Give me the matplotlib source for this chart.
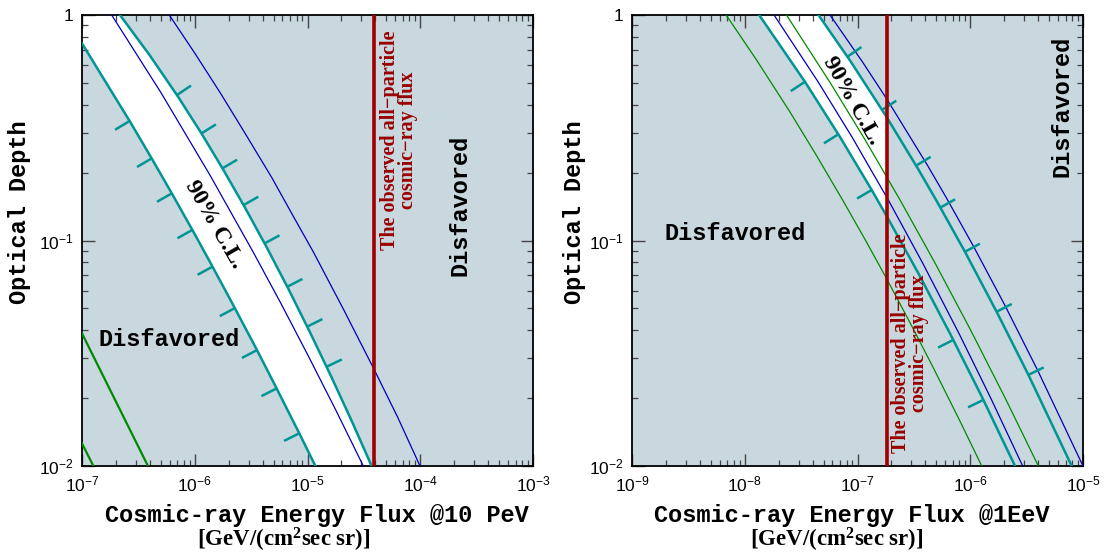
import numpy as np
import matplotlib.pyplot as plt
from matplotlib.patches import Polygon, Rectangle

plt.rcParams['font.family'] = 'Liberation Sans'
plt.rcParams['mathtext.default'] = 'regular'

# ---- left panel: flux @ 10 PeV  (log10 values) ----
pev_lo_x = [-7.0, -6.574, -6.382, -6.2, -6.0, -5.85, -5.687, -5.451, -5.288, -5.067, -4.93]
pev_lo_y = [-0.126, -0.473, -0.636, -0.794, -0.972, -1.109, -1.26, -1.483, -1.642, -1.861, -2.0]
pev_hi_x = [-6.663, -6.4, -6.146, -5.938, -5.747, -5.55, -5.362, -5.17, -4.98, -4.79, -4.61, -4.431]
pev_hi_y = [0.0, -0.178, -0.364, -0.527, -0.686, -0.858, -1.03, -1.214, -1.405, -1.603, -1.798, -2.0]
pev_blue_in_x = [-6.737, -6.3, -5.865, -5.481, -5.24, -5.0, -4.747, -4.505]
pev_blue_in_y = [0.0, -0.344, -0.71, -1.052, -1.275, -1.505, -1.754, -2.0]
pev_blue_out_x = [-6.226, -6.0, -5.77, -5.54, -5.318, -5.13, -4.949, -4.68, -4.416, -4.2, -4.002]
pev_blue_out_y = [0.0, -0.169, -0.348, -0.536, -0.72, -0.889, -1.05, -1.306, -1.565, -1.784, -2.0]
pev_green_a_x = [-7.0, -6.415]
pev_green_a_y = [-1.412, -2.0]
pev_green_b_x = [-7.0, -6.899]
pev_green_b_y = [-1.9, -2.0]
pev_cr_flux = 3.85e-5
pev_lo_ticks = [-0.47, -0.636, -0.791, -0.953, -1.116, -1.30, -1.486, -1.656, -1.855]
pev_hi_ticks = [-0.355, -0.525, -0.680, -0.843, -1.013, -1.205, -1.382, -1.560]

# ---- right panel: flux @ 1 EeV ----
eev_lo_x = [-7.872, -7.466, -7.155, -6.874, -6.741, -6.462, -6.18, -5.898, -5.603]
eev_lo_y = [0.0, -0.296, -0.541, -0.776, -0.892, -1.144, -1.412, -1.692, -2.0]
eev_hi_x = [-7.346, -7.066, -6.741, -6.461, -6.283, -6.047, -5.765, -5.485, -5.10]
eev_hi_y = [0.0, -0.202, -0.453, -0.684, -0.838, -1.05, -1.317, -1.595, -2.0]
eev_blue_in_x = [-7.74, -7.35, -7.05, -6.727, -6.42, -6.10, -5.82, -5.535]
eev_blue_in_y = [0.0, -0.296, -0.54, -0.82, -1.102, -1.412, -1.697, -2.0]
eev_green_in_x = [-7.63, -7.24, -6.94, -6.623, -6.31, -6.0, -5.69, -5.396]
eev_green_in_y = [0.0, -0.302, -0.547, -0.82, -1.102, -1.394, -1.699, -2.0]
eev_blue_out_x = [-7.244, -6.96, -6.741, -6.38, -6.209, -5.97, -5.69, -5.40, -5.0]
eev_blue_out_y = [0.0, -0.205, -0.372, -0.666, -0.813, -1.027, -1.29, -1.578, -2.0]
eev_green_out_x = [-8.165, -7.9, -7.599, -7.365, -7.129, -6.929, -6.741, -6.52, -6.32, -6.1, -5.898]
eev_green_out_y = [0.0, -0.196, -0.43, -0.622, -0.823, -0.999, -1.17, -1.378, -1.572, -1.792, -2.0]
eev_cr_flux = 1.82e-7
eev_lo_ticks = [-0.296, -0.529, -0.776, -1.441, -1.707]
eev_hi_ticks = [-0.185, -0.421, -0.668, -0.854, -1.05, -1.316, -1.596]

BG = '#c9d7df'
TEAL = '#009595'
BLUE = '#0000bb'
GREEN = '#008a00'
RED = '#a00000'
MONO = 'Liberation Mono'
SERIF = 'Liberation Serif'


def lg(v):
    return 10.0 ** np.asarray(v, dtype=float)


def hatch(ax, cx, cy, ticks, side, length=17):
    """Short perpendicular dashes along a curve (side=+1 up-right, -1 down-left)."""
    cx = np.asarray(cx); cy = np.asarray(cy)
    for yt in ticks:
        xa = np.interp(yt + 0.02, cy[::-1], cx[::-1])
        xb = np.interp(yt - 0.02, cy[::-1], cx[::-1])
        xm = np.interp(yt, cy[::-1], cx[::-1])
        pa = ax.transData.transform((10 ** xa, 10 ** (yt + 0.02)))
        pb = ax.transData.transform((10 ** xb, 10 ** (yt - 0.02)))
        pm = ax.transData.transform((10 ** xm, 10 ** yt))
        d = pb - pa
        d = d / np.hypot(*d)
        n = np.array([-d[1], d[0]])
        if n[0] * side < 0:
            n = -n
        pe = pm + n * length
        q = ax.transData.inverted().transform(np.vstack([pm, pe]))
        ax.plot(q[:, 0], q[:, 1], color=TEAL, lw=1.8, solid_capstyle='butt', zorder=4)


def setup(ax, xlim):
    ax.set_xscale('log')
    ax.set_yscale('log')
    ax.set_xlim(*xlim)
    ax.set_ylim(1e-2, 1)
    ax.set_facecolor(BG)
    ax.set_yticks([1e-2, 1e-1, 1])
    ax.set_yticklabels(['$10^{-2}$', '$10^{-1}$', '1'])
    ax.tick_params(which='both', direction='in', top=True, right=True,
                   color='#444444', labelsize=12.5, pad=6)
    ax.tick_params(which='major', length=9, width=1.0)
    ax.tick_params(which='minor', length=4.5, width=0.9)
    for s in ax.spines.values():
        s.set_linewidth(1.3)


def band(ax, hx, hy, lx, ly, red_x, corner=None):
    xs = list(hx) + list(lx[::-1])
    ys = list(hy) + list(ly[::-1])
    if corner is not None:
        xs.append(corner[0]); ys.append(corner[1])
    poly = Polygon(np.column_stack([lg(xs), lg(ys)]), closed=True,
                   facecolor='white', edgecolor='none', zorder=1)
    ax.add_patch(poly)
    clip = Rectangle((1e-12, 1e-3), red_x - 1e-12, 10, transform=ax.transData)
    poly.set_clip_path(clip)


fig = plt.figure(figsize=(11.07, 5.52), dpi=100)
axL = fig.add_axes([82 / 1107, 86 / 552, 451 / 1107, 451 / 552])
axR = fig.add_axes([632 / 1107, 86 / 552, 451 / 1107, 451 / 552])

# ---------------- left panel ----------------
setup(axL, (1e-7, 1e-3))
band(axL, pev_hi_x, pev_hi_y, pev_lo_x, pev_lo_y, pev_cr_flux, corner=(-7.0, 0.0))
axL.plot(lg(pev_lo_x), lg(pev_lo_y), color=TEAL, lw=1.8, zorder=3)
axL.plot(lg(pev_hi_x), lg(pev_hi_y), color=TEAL, lw=1.8, zorder=3)
axL.plot(lg(pev_blue_in_x), lg(pev_blue_in_y), color=BLUE, lw=0.9, zorder=3)
axL.plot(lg(pev_blue_out_x), lg(pev_blue_out_y), color=BLUE, lw=0.9, zorder=3)
axL.plot(lg(pev_green_a_x), lg(pev_green_a_y), color=GREEN, lw=1.6, zorder=3)
axL.plot(lg(pev_green_b_x), lg(pev_green_b_y), color=GREEN, lw=1.6, zorder=3)
axL.axvline(pev_cr_flux, color=RED, lw=2.6, zorder=5)
hatch(axL, pev_lo_x, pev_lo_y, pev_lo_ticks, -1)
hatch(axL, pev_hi_x, pev_hi_y, pev_hi_ticks, +1)

axL.text(10 ** -5.829, 10 ** -0.927, '90% C.L.', rotation=-60, rotation_mode='anchor',
         ha='center', va='center', family=SERIF, weight='bold', fontsize=17, zorder=6)
axL.text(10 ** -6.226, 10 ** -1.441, 'Disfavored', ha='center', va='center',
         family=MONO, weight='bold', fontsize=17, zorder=6)
axL.text(10 ** -3.647, 10 ** -0.846, 'Disfavored', rotation=90, ha='center', va='center',
         family=MONO, weight='bold', fontsize=17, zorder=6)
axL.text(10 ** -4.188, 10 ** -0.554, 'The observed all\u2212particle\ncosmic\u2212ray flux',
         rotation=90, ha='center', va='center', multialignment='center', linespacing=0.9,
         family=SERIF, weight='bold', fontsize=14.5, color='#990000', zorder=6)

# ---------------- right panel ----------------
setup(axR, (1e-9, 1e-5))
band(axR, eev_hi_x, eev_hi_y, eev_lo_x, eev_lo_y, eev_cr_flux)
axR.plot(lg(eev_green_out_x), lg(eev_green_out_y), color=GREEN, lw=0.9, zorder=3)
axR.plot(lg(eev_lo_x), lg(eev_lo_y), color=TEAL, lw=1.8, zorder=3)
axR.plot(lg(eev_blue_in_x), lg(eev_blue_in_y), color=BLUE, lw=0.9, zorder=3)
axR.plot(lg(eev_green_in_x), lg(eev_green_in_y), color=GREEN, lw=0.9, zorder=3)
axR.plot(lg(eev_hi_x), lg(eev_hi_y), color=TEAL, lw=1.8, zorder=3)
axR.plot(lg(eev_blue_out_x), lg(eev_blue_out_y), color=BLUE, lw=0.9, zorder=3)
axR.axvline(eev_cr_flux, color=RED, lw=2.6, zorder=5)
hatch(axR, eev_lo_x, eev_lo_y, eev_lo_ticks, -1)
hatch(axR, eev_hi_x, eev_hi_y, eev_hi_ticks, +1)

axR.text(10 ** -7.051, 10 ** -0.381, '90% C.L.', rotation=-60.5, rotation_mode='anchor',
         ha='center', va='center', family=SERIF, weight='bold', fontsize=17, zorder=6)
axR.text(10 ** -8.086, 10 ** -0.968, 'Disfavored', ha='center', va='center',
         family=MONO, weight='bold', fontsize=17, zorder=6)
axR.text(10 ** -5.189, 10 ** -0.404, 'Disfavored', rotation=90, ha='center', va='center',
         family=MONO, weight='bold', fontsize=17, zorder=6)
axR.text(10 ** -6.534, 10 ** -1.455, 'The observed all\u2212particle\ncosmic\u2212ray flux',
         rotation=90, ha='center', va='center', multialignment='center', linespacing=0.9,
         family=SERIF, weight='bold', fontsize=14.5, color='#990000', zorder=6)

# ---------------- axis labels ----------------
for xf in (20 / 1107, 575 / 1107):
    fig.text(xf, 1 - 212 / 552, 'Optical Depth', rotation=90, ha='center', va='center',
             family=MONO, weight='bold', fontsize=17)
fig.text(316.7 / 1107, 30.3 / 552, 'Cosmic-ray Energy Flux @10 PeV', ha='center',
         va='baseline', family=MONO, weight='bold', fontsize=17)
fig.text(852 / 1107, 30.3 / 552, 'Cosmic-ray Energy Flux @1EeV', ha='center',
         va='baseline', family=MONO, weight='bold', fontsize=17)
fig.text(284 / 1107, 5.5 / 552, '[GeV/(cm$^2$sec sr)]', ha='center', va='baseline',
         family=SERIF, weight='bold', fontsize=16.5)
fig.text(836.7 / 1107, 5.5 / 552, '[GeV/(cm$^2$sec sr)]', ha='center', va='baseline',
         family=SERIF, weight='bold', fontsize=16.5)

fig.savefig('out.png', dpi=100)
